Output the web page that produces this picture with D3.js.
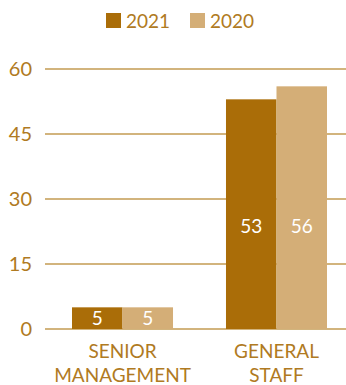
<!DOCTYPE html>
<html>
<head>
<meta charset="UTF-8">
<script src="https://d3js.org/d3.v7.min.js"></script>
<style>
  body { margin: 0; background: #fff; }
  svg { display: block; font-family: Lato, "Open Sans", sans-serif; }
</style>
</head>
<body>
<svg></svg>
<script>
  const width = 346, height = 385;

  const categories = ["SENIOR\nMANAGEMENT", "GENERAL\nSTAFF"];
  const years = ["2021", "2020"];
  const values2021 = [5, 53];
  const values2020 = [5, 56];
  const ticks = [0, 15, 30, 45, 60];

  const colors = { "2021": "#aa6d08", "2020": "#d4ae77" };
  const gold = "#b07a22";

  const svg = d3.select("svg").attr("width", width).attr("height", height);

  const y = d3.scaleLinear().domain([0, 60]).range([329, 69]);
  const x = d3.scaleBand().domain(categories).range([72, 327]).paddingInner(0.344).paddingOuter(0);
  const x1 = d3.scaleBand().domain(years).range([0, x.bandwidth()]);

  // grid lines
  svg.append("g").selectAll("line").data(ticks).join("line")
    .attr("x1", 45).attr("x2", width)
    .attr("y1", d => y(d)).attr("y2", d => y(d))
    .attr("stroke", "#c39b52").attr("stroke-width", 1.5);

  svg.append("g").selectAll("text").data(ticks).join("text")
    .attr("x", 32).attr("y", d => y(d)).attr("dy", "0.36em")
    .attr("text-anchor", "end")
    .attr("fill", gold).attr("font-size", 20)
    .text(d => d);

  const rows = [];
  categories.forEach((c, i) => {
    rows.push({ cat: c, year: "2021", value: values2021[i] });
    rows.push({ cat: c, year: "2020", value: values2020[i] });
  });

  svg.append("g").selectAll("rect").data(rows).join("rect")
    .attr("x", d => x(d.cat) + x1(d.year))
    .attr("width", x1.bandwidth())
    .attr("y", d => y(d.value))
    .attr("height", d => y(0) - y(d.value))
    .attr("fill", d => colors[d.year]);

  svg.append("g").selectAll("text").data(rows).join("text")
    .attr("x", d => x(d.cat) + x1(d.year) + x1.bandwidth() / 2)
    .attr("y", d => y(Math.min(d.value / 2, 23.8)))
    .attr("dy", "0.36em")
    .attr("text-anchor", "middle")
    .attr("fill", "#fff").attr("font-size", 19)
    .text(d => d.value);

  // category labels
  const catLabels = svg.append("g").selectAll("text").data(categories).join("text")
    .attr("text-anchor", "middle")
    .attr("fill", gold).attr("font-size", 19);
  catLabels.selectAll("tspan").data(d => d.split("\n").map(t => ({ t, cx: x(d) + x.bandwidth() / 2 })))
    .join("tspan")
    .attr("x", d => d.cx)
    .attr("y", (d, i) => 358 + i * 24)
    .text(d => d.t);

  // legend
  const legend = svg.append("g");
  const legendX = [106, 190];
  years.forEach((yr, i) => {
    legend.append("rect").attr("x", legendX[i]).attr("y", 13).attr("width", 15).attr("height", 15)
      .attr("fill", colors[yr]);
    legend.append("text").attr("x", legendX[i] + 20).attr("y", 28)
      .attr("fill", gold).attr("font-size", 19).text(yr);
  });
</script>
</body>
</html>
